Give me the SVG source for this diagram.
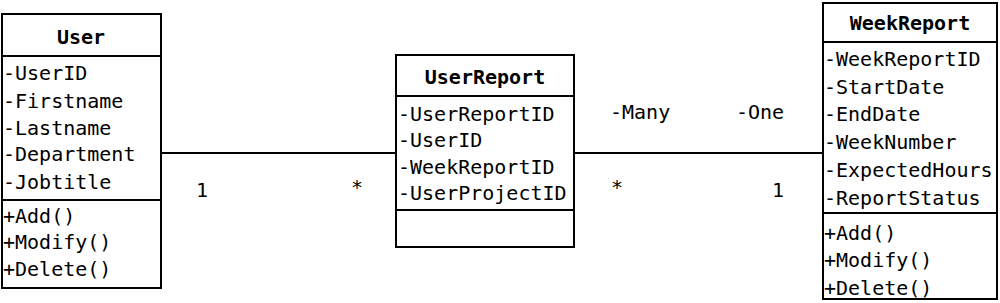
<svg xmlns="http://www.w3.org/2000/svg" width="1000" height="303" viewBox="0 0 1000 303">
<style>
.box{fill:#fff;stroke:#000;stroke-width:2}
.sep{stroke:#000;stroke-width:2}
.t{font-family:"DejaVu Sans Mono",monospace;font-size:20px;fill:#000}
.h{font-family:"DejaVu Sans Mono",monospace;font-size:20px;font-weight:bold;fill:#000;text-anchor:middle}
.c{stroke:#000;stroke-width:2;fill:none}
</style>
<rect width="1000" height="303" fill="#fff"/>
<g id="connectors">
<line class="c" x1="161" y1="153" x2="396" y2="153"/>
<line class="c" x1="574" y1="153" x2="823" y2="153"/>
<text class="t" x="196" y="197">1</text>
<text class="t" x="351" y="194">*</text>
<text class="t" x="610" y="119">-Many</text>
<text class="t" x="736" y="119">-One</text>
<text class="t" x="611" y="194">*</text>
<text class="t" x="772" y="197">1</text>
</g>
<g id="User">
<rect class="box" x="2" y="14" width="159" height="274"/>
<line class="sep" x1="2" y1="56" x2="161" y2="56"/>
<line class="sep" x1="2" y1="200" x2="161" y2="200"/>
<text class="h" x="81" y="44">User</text>
<text class="t" x="3" y="80">-UserID</text>
<text class="t" x="3" y="108">-Firstname</text>
<text class="t" x="3" y="135">-Lastname</text>
<text class="t" x="3" y="161">-Department</text>
<text class="t" x="3" y="189">-Jobtitle</text>
<text class="t" x="3" y="223">+Add()</text>
<text class="t" x="3" y="249">+Modify()</text>
<text class="t" x="3" y="276">+Delete()</text>
</g>
<g id="UserReport">
<rect class="box" x="396" y="55" width="178" height="192"/>
<line class="sep" x1="396" y1="96" x2="574" y2="96"/>
<line class="sep" x1="396" y1="210" x2="574" y2="210"/>
<text class="h" x="485" y="84">UserReport</text>
<text class="t" x="398" y="121">-UserReportID</text>
<text class="t" x="398" y="147">-UserID</text>
<text class="t" x="398" y="174">-WeekReportID</text>
<text class="t" x="398" y="200">-UserProjectID</text>
</g>
<g id="WeekReport">
<rect class="box" x="823" y="3" width="174" height="296"/>
<line class="sep" x1="823" y1="42" x2="997" y2="42"/>
<line class="sep" x1="823" y1="213" x2="997" y2="213"/>
<text class="h" x="910" y="30">WeekReport</text>
<text class="t" x="824" y="66">-WeekReportID</text>
<text class="t" x="824" y="94">-StartDate</text>
<text class="t" x="824" y="121">-EndDate</text>
<text class="t" x="824" y="149">-WeekNumber</text>
<text class="t" x="824" y="177">-ExpectedHours</text>
<text class="t" x="824" y="205">-ReportStatus</text>
<text class="t" x="824" y="240">+Add()</text>
<text class="t" x="824" y="267">+Modify()</text>
<text class="t" x="824" y="295">+Delete()</text>
</g>
</svg>
